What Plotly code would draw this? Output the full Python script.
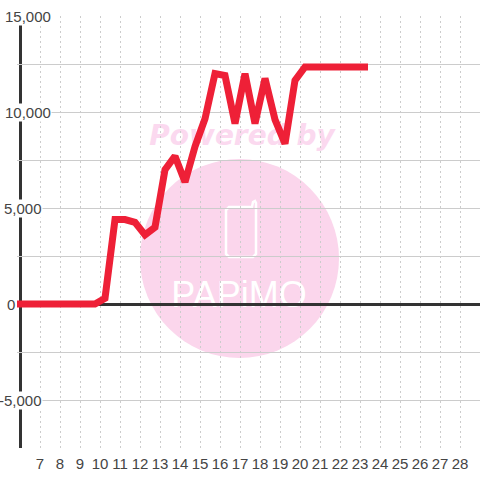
import plotly.graph_objects as go

# --- data ---
x_values = [5.85, 7, 8, 9, 9.75, 10.25, 10.75, 11.25, 11.75, 12.25, 12.75, 13.25, 13.75,
            14.25, 14.75, 15.25, 15.75, 16.25, 16.75, 17.25, 17.75, 18.25, 18.75,
            19.25, 19.75, 20.25, 21.25, 22.25, 23.4]
y_values = [0, 0, 0, 0, 0, 300, 4400, 4400, 4250, 3600, 4000, 7000, 7700,
            6350, 8200, 9650, 12000, 11900, 9400, 12000, 9400, 11750, 9600,
            8350, 11650, 12350, 12350, 12350, 12350]
x_ticks = list(range(7, 29))
y_grid_step = 2500
y_labels = [15000, 10000, 5000, 0, -5000]
y_label_right = [52, 52, 43, 16, 43]   # right edge of each label, px

W, H = 480, 480
L, R, T, B = 17, 0, 16, 32
PW, PH = W - L - R, H - T - B
INK = "#444444"
AXIS = "#333333"
PINK = "#fbd6ec"


def px(v):
    return (v - L) / PW


def py(v):
    return (H - B - v) / PH


def box(x0, y0, x1, y1, **kw):
    return dict(type="rect", xref="paper", yref="paper", layer="below",
                x0=px(x0), x1=px(x1), y0=py(y1), y1=py(y0), **kw)


def phone_path():
    pts = [("M", 229, 207), ("L", 252, 207), ("L", 253, 202), ("L", 255, 201),
           ("L", 256, 203), ("L", 256, 254), ("L", 253, 257), ("L", 229, 257),
           ("L", 226, 254), ("L", 226, 210)]
    return " ".join(f"{c} {px(a)} {py(b)}" for c, a, b in pts) + " Z"


fig = go.Figure(go.Scatter(
    x=x_values, y=y_values, mode="lines",
    line=dict(color="#ee2037", width=7), hoverinfo="skip", showlegend=False))

shapes = [
    dict(type="circle", xref="paper", yref="paper", layer="below",
         x0=px(140), x1=px(339), y0=py(358), y1=py(159),
         fillcolor=PINK, line_width=0),
    dict(type="path", xref="paper", yref="paper", layer="below", path=phone_path(),
         fillcolor="rgba(0,0,0,0)", line=dict(color="white", width=2.5)),
    box(148, 116, 336, 150, fillcolor="rgba(0,0,0,0)", line_width=0,
        label=dict(text="<b><i>Powered by</i></b>", textposition="middle center",
                   font=dict(family="DejaVu Sans", size=28, color="#fbd9ef"))),
    box(165, 272, 313, 310, fillcolor="rgba(0,0,0,0)", line_width=0,
        label=dict(text="PAPiMO", textposition="middle center",
                   font=dict(family="Liberation Sans", size=36, color="white"))),
    # hide the grid stubs left of the axis line
    dict(type="rect", xref="paper", yref="paper", layer="between",
         x0=px(15), x1=px(19.5), y0=-0.01, y1=1.01, fillcolor="white", line_width=0),
    # left axis line
    dict(type="line", xref="paper", yref="paper", layer="between",
         x0=px(20.5), x1=px(20.5), y0=0, y1=1, line=dict(color=AXIS, width=3)),
]

annotations = [
    dict(xref="paper", yref="y", x=0, y=v, xanchor="right", yanchor="middle",
         xshift=r - L, yshift=-0.5, text=f"{v:,}", showarrow=False, bgcolor="white", borderpad=0,
         font=dict(family="Liberation Sans", size=15, color=INK))
    for v, r in zip(y_labels, y_label_right)
]

fig.update_layout(
    width=W, height=H, autosize=False,
    margin=dict(l=L, r=R, t=T, b=B),
    paper_bgcolor="white", plot_bgcolor="rgba(0,0,0,0)",
    font=dict(family="Liberation Sans", size=15, color=INK),
    shapes=shapes, annotations=annotations,
    xaxis=dict(range=[5.85, 29], tickmode="array", tickvals=x_ticks,
               ticktext=[str(t) for t in x_ticks],
               ticks="outside", ticklen=2, tickcolor="rgba(0,0,0,0)", showline=False,
               showgrid=True, gridcolor="#cccccc", gridwidth=1, griddash="2px,3px",
               zeroline=False, fixedrange=True),
    yaxis=dict(range=[-7500, 15000], dtick=y_grid_step, tick0=0, showticklabels=False,
               ticks="", showline=False,
               showgrid=True, gridcolor="#cccccc", gridwidth=1,
               zeroline=True, zerolinecolor=AXIS, zerolinewidth=3, fixedrange=True),
)

fig.write_html("out.html", config=dict(displayModeBar=False),
               post_script="document.body.style.margin='0';document.documentElement.style.overflow='hidden';")
